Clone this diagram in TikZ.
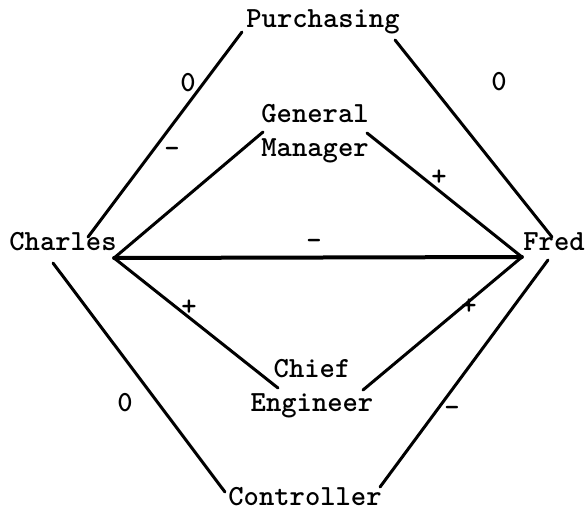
\documentclass[tikz,border=0pt]{standalone}
\usepackage{fontspec}
\usetikzlibrary{calc}
\tikzset{
  who/.style={font=\ttfamily\bfseries\fontsize{14.6}{17}\selectfont,inner sep=0pt,anchor=base,align=center},
  sgn/.style={font=\ttfamily\bfseries\fontsize{14.6}{15}\selectfont,inner sep=0pt},
  tie/.style={line width=1.5pt,line cap=round},
}
\begin{document}
\begin{tikzpicture}[x=0.5pt,y=-0.5pt]
  \useasboundingbox (0,0) rectangle (588,516);
  % people and departments
  \node[who] (pur) at (323,27) {Purchasing};
  \node[who] (gm) at (315,156) {General\\Manager};
  \node[who] (charles) at (63,250) {Charles};
  \node[who] (fred) at (554,250) {Fred};
  \node[who] (chief) at (312,411) {Chief\\Engineer};
  \node[who] (ctrl) at (305,505) {Controller};
  % inner ties
  \draw[tie,line width=2pt] ($(charles.base east)+(-3,8)$) -- ($(fred.base west)+(-1,7)$);
  \draw[tie] ($(charles.base east)+(-3,8)$) -- ($(gm.base)+(-52,-24)$);
  \draw[tie] ($(charles.base east)+(-3,8)$) -- ($(chief.base)+(-34,-23)$);
  \draw[tie] ($(fred.base west)+(-1,7)$) -- ($(gm.base)+(52,-23)$);
  \draw[tie] ($(fred.base west)+(-1,7)$) -- ($(chief.base)+(51,-21)$);
  % outer ties
  \draw[tie] ($(charles.base)+(25,-13)$) -- ($(pur.base west)+(-4,5)$);
  \draw[tie] ($(fred.base)+(-2,-13)$) -- ($(pur.base east)+(-5,13)$);
  \draw[tie] ($(charles.base)+(-10,13)$) -- ($(ctrl.base west)+(-3,-13)$);
  \draw[tie] ($(fred.base)+(-6,10)$) -- ($(ctrl.base east)+(-2,-18)$);
  % signs
  \node[sgn] (s0a) at (188,83) {0};
  \node[sgn] (s0b) at (499,82) {0};
  \node[sgn] (s0c) at (125,403) {0};
  \node[sgn] (smgm) at (172,152) {-};
  \node[sgn] (smcf) at (314,244) {-};
  \node[sgn] (smct) at (452,411) {-};
  \node[sgn] (spgm) at (439,178) {+};
  \node[sgn] (spce) at (189,308) {+};
  \node[sgn] (spcf) at (469,307) {+};
\end{tikzpicture}
\end{document}
